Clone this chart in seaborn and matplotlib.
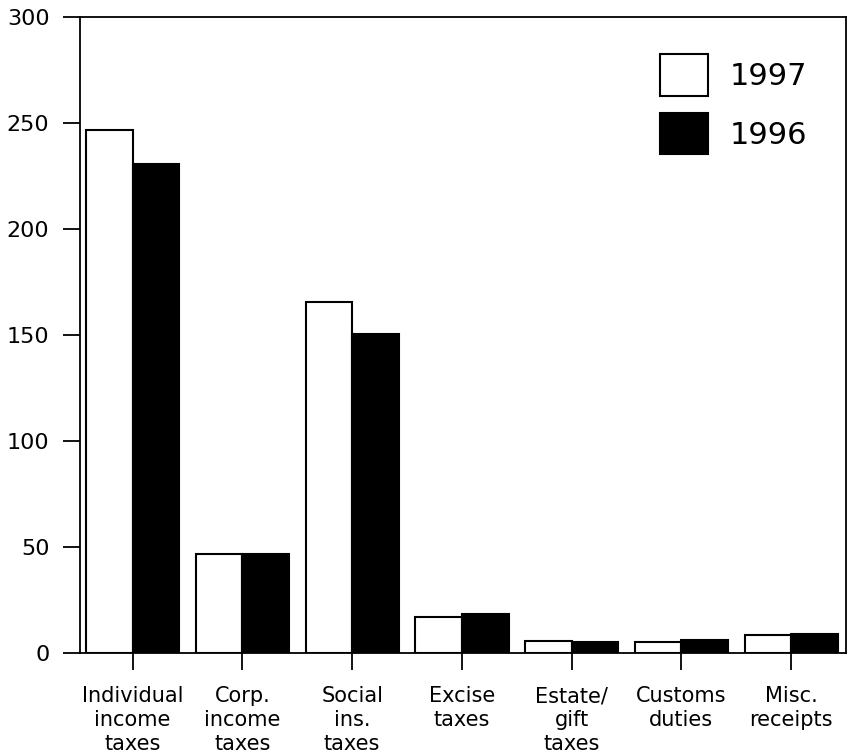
import matplotlib
matplotlib.use("Agg")
import matplotlib.pyplot as plt
import pandas as pd
import seaborn as sns

CATEGORIES = [
    "Individual\nincome\ntaxes",
    "Corp.\nincome\ntaxes",
    "Social\nins.\ntaxes",
    "Excise\ntaxes",
    "Estate/\ngift\ntaxes",
    "Customs\nduties",
    "Misc.\nreceipts",
]
YEARS = ["1997", "1996"]
VALUES_1997 = [246.5, 46.5, 165.5, 17.2, 5.8, 5.3, 8.6]
VALUES_1996 = [230.5, 46.5, 150.3, 18.6, 5.0, 6.3, 8.8]


def get_data() -> pd.DataFrame:
    rows = []
    for year, vals in zip(YEARS, [VALUES_1997, VALUES_1996]):
        for cat, v in zip(CATEGORIES, vals):
            rows.append({"category": cat, "year": year, "value": v})
    return pd.DataFrame(rows)


def plot_receipts() -> None:
    df = get_data()
    sns.set_style("ticks")
    plt.rcParams["font.family"] = ["DejaVu Sans"]
    plt.rcParams["text.color"] = "black"

    fig = plt.figure(figsize=(8.52, 7.55), dpi=100)
    ax = fig.add_axes([0.0939, 0.135, 0.8991, 0.8425])

    sns.barplot(
        data=df, x="category", y="value", hue="year",
        hue_order=YEARS, order=CATEGORIES,
        palette={"1997": "white", "1996": "black"},
        edgecolor="black", linewidth=1.5, width=0.85,
        gap=0, ax=ax, legend=True,
    )

    ax.set_ylim(0, 300)
    ax.set_xlim(-0.48, 6.5)
    ax.set_yticks([0, 50, 100, 150, 200, 250, 300])
    ax.set_xlabel("")
    ax.set_ylabel("")
    for side in ["top", "right", "left", "bottom"]:
        ax.spines[side].set_visible(True)
        ax.spines[side].set_linewidth(1.3)
        ax.spines[side].set_color("black")
    ax.tick_params(axis="both", length=12, width=1.3, color="black",
                   labelcolor="black")
    ax.tick_params(axis="y", labelsize=16, pad=10)
    ax.tick_params(axis="x", labelsize=15, pad=12)
    for lab in ax.get_xticklabels():
        lab.set_linespacing(1.25)

    leg = ax.legend(
        loc="upper right", bbox_to_anchor=(0.985, 0.985), frameon=False,
        fontsize=22, handlelength=1.57, handleheight=1.72,
        handletextpad=0.72, labelspacing=0.56,
    )
    for t in leg.get_texts():
        t.set_color("black")

    fig.savefig("out.png", dpi=100)


if __name__ == "__main__":
    plot_receipts()
